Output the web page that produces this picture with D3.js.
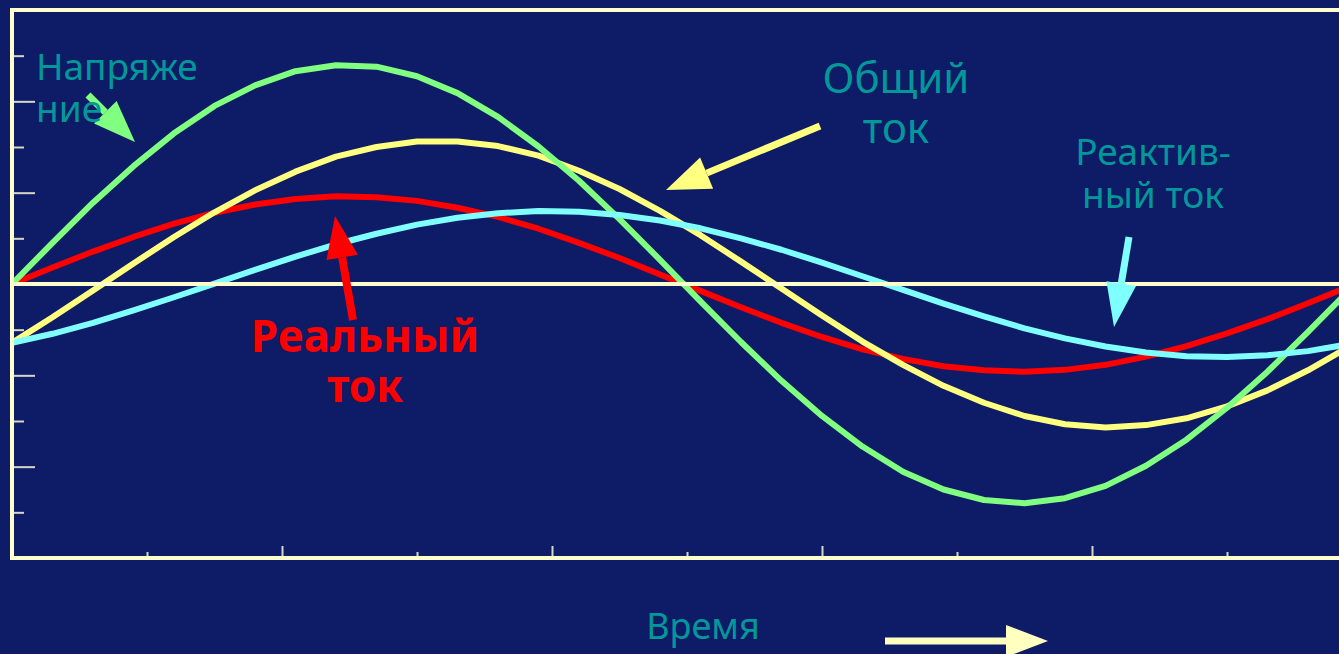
<!DOCTYPE html>
<html>
<head>
<meta charset="utf-8">
<script src="https://cdn.jsdelivr.net/npm/d3@7"></script>
<style>
  html, body { margin: 0; padding: 0; background: #0e1b66; overflow: hidden; }
  svg { display: block; }
</style>
</head>
<body>
<svg id="chart" width="1339" height="654"></svg>
<script>
// ---- data (y in axis units, x in time units) ----
const timeSteps = [0,0.3,0.6,0.9,1.2,1.5,1.8,2.1,2.4,2.7,3.0,3.3,3.6,3.9,4.2,4.5,4.8,5.1,5.4,5.7,6.0,6.3,6.6,6.9,7.2,7.5,7.8,8.1,8.4,8.7,9.0,9.3,9.6,9.9,10.2];
const voltage  = [0,0.90,1.78,2.58,3.30,3.90,4.35,4.66,4.79,4.76,4.55,4.18,3.66,3.01,2.26,1.42,0.53,-0.38,-1.27,-2.12,-2.89,-3.56,-4.11,-4.50,-4.73,-4.80,-4.69,-4.42,-3.98,-3.41,-2.71,-1.92,-1.05,-0.15,0.75];
const realCurrent = [0,0.36,0.71,1.03,1.32,1.56,1.74,1.86,1.92,1.90,1.82,1.67,1.47,1.21,0.90,0.57,0.21,-0.15,-0.51,-0.85,-1.16,-1.43,-1.64,-1.80,-1.89,-1.92,-1.88,-1.77,-1.59,-1.36,-1.08,-0.77,-0.42,-0.06,0.30];
const reactiveCurrent = [-1.29,-1.09,-0.85,-0.58,-0.29,0.01,0.31,0.60,0.87,1.10,1.30,1.45,1.55,1.60,1.58,1.51,1.39,1.22,1.00,0.75,0.47,0.17,-0.13,-0.43,-0.71,-0.97,-1.19,-1.37,-1.50,-1.58,-1.60,-1.56,-1.47,-1.32,-1.13];
const totalCurrent = [-1.29,-0.73,-0.14,0.45,1.03,1.57,2.05,2.46,2.79,3.00,3.12,3.12,3.02,2.81,2.48,2.08,1.60,1.07,0.49,-0.10,-0.69,-1.26,-1.77,-2.23,-2.60,-2.89,-3.07,-3.14,-3.09,-2.94,-2.68,-2.33,-1.89,-1.38,-0.83];
const xTicksMajor = [2,4,6,8];
const xTicksMinor = [1,3,5,7,9];
const yTicksMajor = [-4,-2,2,4];
const yTicksMinor = [-5,-3,-1,1,3,5];

// ---- layout ----
const svg = d3.select("#chart");
const x = d3.scaleLinear().domain([0, 10]).range([12, 1362]);
const y = d3.scaleLinear().domain([-6, 6]).range([558, 10]);
const FRAME = "#ffffcc", TICK = "#d6d6c4", TEAL = "#02989a";
const FONT = "'Noto Sans', 'Open Sans', sans-serif";

svg.append("rect").attr("width", 1339).attr("height", 654).attr("fill", "#0e1b66");

// axes ticks
function tickAxis(gen, vals, size, tx, ty) {
  const g = svg.append("g").attr("transform", `translate(${tx},${ty})`)
    .call(gen.tickValues(vals).tickSize(size).tickFormat(""));
  g.select(".domain").remove();
  g.selectAll(".tick line").attr("stroke", TICK).attr("stroke-width", 2);
}
tickAxis(d3.axisRight(y), yTicksMajor, 23, 12, 0);
tickAxis(d3.axisRight(y), yTicksMinor, 12, 12, 0);
tickAxis(d3.axisTop(x), xTicksMajor, 12, 0, 558);
tickAxis(d3.axisTop(x), xTicksMinor, 6, 0, 558);

// curves
const line = d3.line().x((d, i) => x(timeSteps[i])).y(d => y(d));
const series = [
  { vals: realCurrent, color: "#ff0000" },
  { vals: totalCurrent, color: "#ffff80" },
  { vals: voltage, color: "#80ff80" },
  { vals: reactiveCurrent, color: "#80ffff" }
];
svg.append("clipPath").attr("id", "plotclip")
  .append("rect").attr("x", x(0)).attr("y", y(6)).attr("width", x(10) - x(0)).attr("height", y(-6) - y(6));
const cg = svg.append("g").attr("clip-path", "url(#plotclip)");
series.forEach(s => {
  cg.append("path").datum(s.vals).attr("d", line)
    .attr("fill", "none").attr("stroke", s.color).attr("stroke-width", 6)
    .attr("stroke-linejoin", "round");
});

// zero line
svg.append("line").attr("x1", x(0)).attr("x2", 1339).attr("y1", y(0)).attr("y2", y(0))
  .attr("stroke", FRAME).attr("stroke-width", 4);

// frame
svg.append("rect").attr("x", x(0)).attr("y", y(6)).attr("width", x(10) - x(0)).attr("height", y(-6) - y(6))
  .attr("fill", "none").attr("stroke", FRAME).attr("stroke-width", 4);

// arrows
function arrow(x1, y1, x2, y2, color, w, headLen, headW) {
  const ang = Math.atan2(y2 - y1, x2 - x1);
  const bx = x2 - headLen * Math.cos(ang), by = y2 - headLen * Math.sin(ang);
  svg.append("line").attr("x1", x1).attr("y1", y1).attr("x2", bx).attr("y2", by)
    .attr("stroke", color).attr("stroke-width", w);
  const px = -Math.sin(ang) * headW / 2, py = Math.cos(ang) * headW / 2;
  svg.append("path").attr("d", `M${x2},${y2}L${bx + px},${by + py}L${bx - px},${by - py}Z`).attr("fill", color);
}
arrow(88, 95, 135, 142, "#80ff80", 7, 42, 32);
arrow(820, 126, 666, 190, "#ffff80", 7, 44, 34);
arrow(1129, 237, 1114, 327, "#80ffff", 7, 44, 30);
arrow(353, 320, 335, 216, "#ff0000", 8, 42, 32);
arrow(885, 641, 1048, 641, "#ffffc0", 7, 42, 32);

// labels (each line its own text element)
function label(lines, cx, y0, lh, size, color, anchor, weight) {
  lines.forEach((s, i) => svg.append("text").attr("font-family", FONT).attr("font-size", size)
    .attr("fill", color).attr("text-anchor", anchor).attr("font-weight", weight || 400)
    .attr("x", cx).attr("y", y0 + i * lh).text(s));
}
label(["Напряже", "ние"], 36, 80, 42, 37, TEAL, "start");
label(["Общий", "ток"], 896, 93, 50, 42, TEAL, "middle");
label(["Реактив-", "ный ток"], 1153, 165, 43, 37, TEAL, "middle");
label(["Реальный", "ток"], 365, 352, 50, 44, "#ff0000", "middle", 700);
label(["Время"], 703, 639, 40, 36, TEAL, "middle");
</script>
</body>
</html>
